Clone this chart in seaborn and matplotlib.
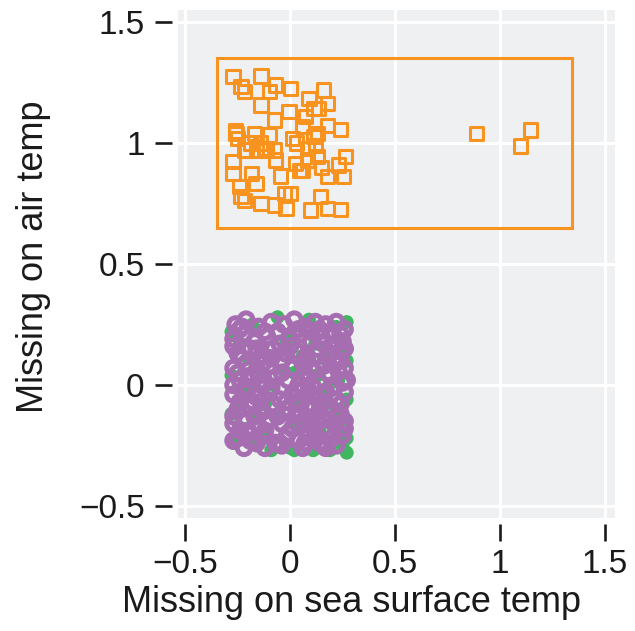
import matplotlib
matplotlib.use("Agg")
import matplotlib.pyplot as plt
from matplotlib.patches import Rectangle
from matplotlib.ticker import FixedLocator, FixedFormatter
import seaborn as sns
import pandas as pd

# Observations missing on air temp only (shadow value 1 on the y axis, jittered)
air_miss_x = [-0.273, -0.234, -0.218, -0.139, -0.068, -0.100, 0.003, -0.139, -0.076, -0.005,
              0.090, 0.161, 0.177, 0.074, 0.137, 0.177, 0.240, -0.258, -0.250, -0.171,
              -0.100, 0.011, 0.114, 0.129, -0.218, -0.123, -0.076, 0.082, 0.129, -0.273,
              -0.068, 0.027, 0.058, 0.264, 0.232, -0.273, -0.186, -0.044, 0.177, 0.256,
              -0.242, -0.163, -0.218, -0.139, -0.076, -0.028, 0.003, -0.020, 0.098, 0.145,
              0.177, 0.240, -0.234, -0.115, 0.114, -0.210, 0.043, 0.082, -0.260, -0.190,
              -0.140, 0.030, 0.120, 0.060, -0.160, 0.150,
              0.888, 1.148, 1.101]
air_miss_y = [1.274, 1.233, 1.212, 1.277, 1.240, 1.212, 1.226, 1.157, 1.095, 1.129,
              1.185, 1.219, 1.164, 1.109, 1.143, 1.074, 1.056, 1.040, 1.019, 1.040,
              1.033, 1.019, 1.026, 1.040, 0.971, 0.978, 0.971, 0.978, 0.943, 0.923,
              0.930, 0.916, 0.888, 0.943, 0.909, 0.875, 0.875, 0.864, 0.861, 0.861,
              0.819, 0.833, 0.764, 0.751, 0.744, 0.792, 0.792, 0.730, 0.723, 0.778,
              0.730, 0.726, 0.778, 0.971, 1.143, 0.971, 0.888, 0.930, 1.050, 1.000,
              1.000, 1.000, 0.990, 1.070, 0.970, 0.900,
              1.040, 1.054, 0.988]

# Observations with both values present (green, drawn underneath)
both_x = [0.27, 0.25, 0.27, -0.28, -0.18, -0.06, 0.09, 0.22, 0.27, 0.23,
          -0.24, -0.14, -0.02, 0.12, -0.20, 0.06, 0.16, 0.27, -0.28, -0.13,
          0.02, 0.13, 0.23, -0.21, -0.08, 0.08, 0.27, -0.25, -0.12, 0.03,
          0.15, 0.22, -0.28, -0.17, -0.05, 0.10, 0.26, -0.23, -0.12, 0.03,
          0.14, 0.23, -0.27, -0.16, -0.09, 0.00, 0.02, 0.11, 0.19, 0.27,
          -0.03, 0.18]
both_y = [-0.28, -0.25, 0.26, 0.22, 0.25, 0.28, 0.27, 0.24, 0.15, 0.19,
          0.17, 0.16, 0.19, 0.17, 0.11, 0.12, 0.11, 0.10, 0.04, 0.05,
          0.05, 0.04, 0.02, -0.01, 0.00, -0.01, -0.06, -0.07, -0.08, -0.07,
          -0.07, -0.10, -0.12, -0.12, -0.13, -0.13, -0.14, -0.18, -0.18, -0.16,
          -0.19, -0.19, -0.24, -0.25, -0.27, -0.26, -0.27, -0.27, -0.27, -0.22,
          0.06, -0.01]

# Observations not missing on air temp (purple open circles)
present_x = [-0.26, -0.21, -0.15, -0.09, -0.03, 0.02, 0.07, 0.12, 0.17, 0.22, 0.26,
             -0.27, -0.22, -0.17, -0.11, -0.06, 0.00, 0.05, 0.10, 0.15, 0.20, 0.25,
             -0.25, -0.19, -0.13, -0.08, -0.02, 0.03, 0.08, 0.13, 0.19, 0.24,
             -0.27, -0.21, -0.16, -0.10, -0.04, 0.01, 0.06, 0.11, 0.16, 0.21, 0.26,
             -0.24, -0.18, -0.12, -0.07, -0.01, 0.04, 0.09, 0.14, 0.19, 0.25,
             -0.27, -0.22, -0.16, -0.10, -0.05, 0.01, 0.06, 0.12, 0.17, 0.22, 0.26,
             -0.25, -0.19, -0.13, -0.08, -0.02, 0.03, 0.08, 0.14, 0.19, 0.24,
             -0.27, -0.21, -0.15, -0.10, -0.04, 0.01, 0.06, 0.11, 0.16, 0.21, 0.26,
             -0.25, -0.19, -0.13, -0.07, -0.02, 0.04, 0.09, 0.14, 0.20, 0.25,
             -0.22, -0.12, -0.04, 0.06, 0.16,
             -0.23, 0.10, -0.05, 0.18, -0.14, 0.08, -0.20, 0.21, -0.09, 0.05,
             -0.24, -0.12, 0.04, 0.14, 0.24,
             -0.27, -0.16, 0.00, 0.16, 0.26,
             -0.23, -0.13, 0.08, 0.18, 0.24,
             -0.25, -0.15, -0.04, 0.07, 0.23,
             -0.27, -0.20, -0.09, 0.03, 0.11, 0.21, 0.27,
             -0.24, -0.18, -0.02, 0.10, 0.16, 0.24,
             -0.27, -0.17, -0.06, 0.05, 0.13, 0.22,
             -0.24, -0.12, -0.01, 0.12, 0.18, 0.26,
             -0.27, -0.16, -0.05, 0.07, 0.17, 0.22]
present_y = [0.25, 0.27, 0.24, 0.26, 0.25, 0.27, 0.24, 0.26, 0.25, 0.26, 0.23,
             0.19, 0.21, 0.18, 0.20, 0.22, 0.19, 0.21, 0.18, 0.20, 0.22, 0.18,
             0.13, 0.15, 0.12, 0.15, 0.13, 0.14, 0.12, 0.15, 0.13, 0.14,
             0.07, 0.09, 0.06, 0.08, 0.10, 0.07, 0.09, 0.06, 0.08, 0.10, 0.07,
             0.02, 0.03, 0.01, 0.03, 0.02, 0.00, 0.03, 0.01, 0.04, 0.01,
             -0.04, -0.03, -0.05, -0.03, -0.06, -0.04, -0.02, -0.05, -0.03, -0.06, -0.03,
             -0.10, -0.09, -0.11, -0.08, -0.10, -0.12, -0.09, -0.11, -0.09, -0.12,
             -0.16, -0.15, -0.17, -0.14, -0.16, -0.18, -0.15, -0.17, -0.14, -0.16, -0.18,
             -0.22, -0.23, -0.21, -0.24, -0.22, -0.23, -0.21, -0.24, -0.22, -0.21,
             -0.26, -0.26, -0.25, -0.26, -0.25,
             0.24, 0.22, 0.17, 0.05, -0.07, -0.19, -0.19, 0.16, 0.11, -0.08,
             0.23, 0.22, 0.23, 0.23, 0.21,
             0.16, 0.15, 0.16, 0.17, 0.15,
             0.11, 0.09, 0.10, 0.11, 0.10,
             0.05, 0.04, 0.05, 0.05, 0.06,
             0.00, -0.01, -0.01, -0.02, -0.01, -0.01, 0.02,
             -0.07, -0.07, -0.07, -0.08, -0.07, -0.08,
             -0.13, -0.13, -0.13, -0.12, -0.14, -0.13,
             -0.19, -0.19, -0.20, -0.20, -0.19, -0.15,
             -0.23, -0.24, -0.24, -0.24, -0.26, -0.25]

# Box around the air-temp-missing group
box_x0, box_x1 = -0.35, 1.345
box_y0, box_y1 = 0.65, 1.35

tick_values = [-0.5, 0, 0.5, 1, 1.5]
tick_labels = ["\u22120.5", "0", "0.5", "1", "1.5"]

orange = "#F7931E"
green = "#3FB65F"
purple = "#A66EB1"
panel_bg = "#EEF0F2"
ink = "#1A1A1A"

sns.set_theme(style="darkgrid")
plt.rcParams["font.family"] = ["Liberation Sans", "DejaVu Sans"]

fig = plt.figure(figsize=(6.35, 6.31), dpi=100)
ax = fig.add_axes([178 / 635, 1 - 518 / 631, 437 / 635, 508 / 631])
ax.set_facecolor(panel_bg)

df_both = pd.DataFrame({"x": both_x, "y": both_y})
df_present = pd.DataFrame({"x": present_x, "y": present_y})
df_air = pd.DataFrame({"x": air_miss_x, "y": air_miss_y})

sns.scatterplot(data=df_both, x="x", y="y", ax=ax, marker="o", s=100,
                color=green, edgecolor="none", linewidth=0, zorder=3)
sns.scatterplot(data=df_present, x="x", y="y", ax=ax, marker="o", s=95,
                facecolor="none", edgecolor=purple, linewidth=3.6, zorder=4)
sns.scatterplot(data=df_air, x="x", y="y", ax=ax, marker="s", s=90,
                facecolor="none", edgecolor=orange, linewidth=2.2, zorder=5)

ax.add_patch(Rectangle((box_x0, box_y0), box_x1 - box_x0, box_y1 - box_y0,
                       fill=False, edgecolor=orange, linewidth=2.2, zorder=6))

ax.set_xlim(-0.535, 1.55)
ax.set_ylim(-0.55, 1.55)

for axis in (ax.xaxis, ax.yaxis):
    axis.set_major_locator(FixedLocator(tick_values))
    axis.set_major_formatter(FixedFormatter(tick_labels))

ax.grid(True, color="white", linewidth=2.2)
ax.set_axisbelow(True)

for side in ("left", "bottom"):
    ax.spines[side].set_visible(True)
    ax.spines[side].set_position(("outward", 4))
    ax.spines[side].set_color("none")
for side in ("top", "right"):
    ax.spines[side].set_visible(False)

ax.tick_params(axis="both", which="major", direction="out", length=12, width=1.9,
               color=ink, labelcolor=ink, labelsize=24,
               bottom=True, left=True)
ax.tick_params(axis="x", pad=6)
ax.tick_params(axis="y", pad=8)

ax.set_xlabel("Missing on sea surface temp", fontsize=26, color=ink)
ax.set_ylabel("Missing on air temp", fontsize=26, color=ink)
ax.xaxis.set_label_coords(0.398, -0.132)
ax.yaxis.set_label_coords(-0.29, 0.514)

fig.savefig("out.png", dpi=100)
